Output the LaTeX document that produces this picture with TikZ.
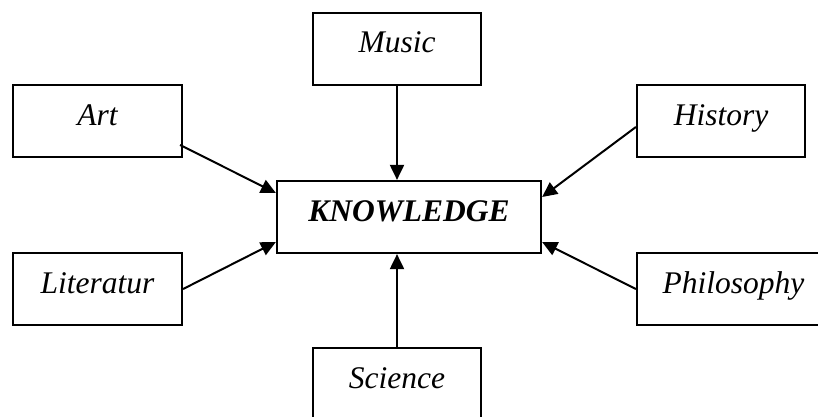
\documentclass[tikz,border=0pt]{standalone}
\usepackage{fontspec}
\setmainfont{Liberation Serif}
\usetikzlibrary{arrows.meta}
\tikzset{
  box/.style={draw, line width=2.2pt, inner sep=0pt, text height=40pt, text depth=32pt,
    minimum width=168pt, font=\fontsize{31.5}{36}\selectfont\itshape},
  kbox/.style={box, minimum width=264pt, font=\fontsize{31.5}{36}\selectfont\bfseries\itshape},
  conn/.style={line width=2pt, -{Triangle[length=15pt,width=14pt]}, shorten >=0pt}
}
\begin{document}
\begin{tikzpicture}[x=1pt,y=-1pt]
\useasboundingbox (0,0) rectangle (818,417);
\node[kbox] (know) at (409,217) {KNOWLEDGE};
\node[box] (music) at (397,49) {Music};
\node[box, minimum width=169pt] (art) at (97.5,121) {Art};
\node[box] (hist) at (721,121) {History};
\node[box, minimum width=169pt] (lit) at (97.5,289) {Literatur};
\node[box, minimum width=193pt] (phil) at (733.5,289) {Philosophy};
\node[box] (sci) at (397,384) {Science};
\draw[conn] (music.south) -- (music.south |- know.north);
\draw[conn] (sci.north) -- (sci.north |- know.south);
\draw[conn] ([yshift=-24pt,xshift=-3pt]art.east) -- ([yshift=24pt]know.west);
\draw[conn] ([yshift=-6pt]hist.west) -- ([yshift=20pt]know.east);
\draw[conn] (lit.east) -- ([yshift=-25pt]know.west);
\draw[conn] (phil.west) -- ([yshift=-25pt]know.east);
\end{tikzpicture}
\end{document}
